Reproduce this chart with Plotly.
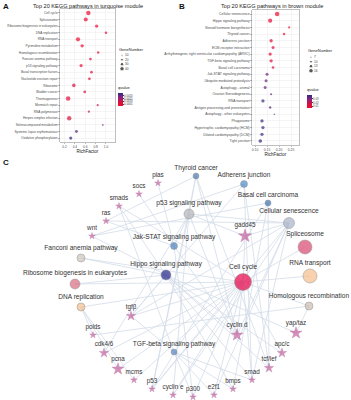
import plotly.graph_objects as go

W, H = 351, 400
FONT = "Liberation Sans, Arial, sans-serif"

# ---------------- Panel A data ----------------
a_terms = ["Cell cycle", "Spliceosome", "Ribosome biogenesis in eukaryotes", "DNA replication",
           "RNA transport", "Pyrimidine metabolism", "Homologous recombination",
           "Fanconi anemia pathway", "p53 signaling pathway", "Basal transcription factors",
           "Nucleotide excision repair", "Ribosome", "Bladder cancer", "Thermogenesis",
           "Mismatch repair", "RNA polymerase", "Herpes simplex infection",
           "Selenocompound metabolism", "Systemic lupus erythematosus", "Oxidative phosphorylation"]
a_rich = [0.66, 0.61, 0.82, 1.00, 0.46, 0.54, 0.85, 0.70, 0.52, 0.72,
          0.68, 0.38, 0.59, 0.27, 0.84, 0.67, 0.29, 0.94, 0.43, 0.32]
a_genes = [40, 36, 28, 18, 38, 28, 17, 20, 26, 20, 21, 30, 20, 42, 13, 15, 40, 8, 22, 26]
a_q = [0.0002, 0.0003, 0.0003, 0.0004, 0.0003, 0.0004, 0.0004, 0.0005, 0.0005, 0.0006,
       0.0006, 0.0007, 0.0009, 0.0006, 0.0010, 0.0011, 0.0008, 0.0018, 0.0022, 0.0025]
a_xticks = [0.2, 0.4, 0.6, 0.8, 1.0]
a_size_legend = [10, 20, 30, 40]
a_q_ticks = [0.0005, 0.0010, 0.0015, 0.0020]

# ---------------- Panel B data ----------------
b_terms = ["Cellular senescence", "Hippo signaling pathway", "Steroid hormone biosynthesis",
           "Thyroid cancer", "Adherens junction", "ECM-receptor interaction",
           "Arrhythmogenic right ventricular cardiomyopathy (ARVC)", "TGF-beta signaling pathway",
           "Basal cell carcinoma", "Jak-STAT signaling pathway", "Ubiquitin mediated proteolysis",
           "Autophagy - animal", "Ovarian Steroidogenesis", "RNA transport",
           "Antigen processing and presentation", "Autophagy - other eukaryotes", "Phagosome",
           "Hypertrophic cardiomyopathy (HCM)", "Dilated cardiomyopathy (DCM)", "Tight junction"]
b_rich = [0.192, 0.163, 0.242, 0.221, 0.167, 0.175, 0.163, 0.167, 0.175, 0.150,
          0.146, 0.142, 0.167, 0.133, 0.163, 0.180, 0.129, 0.133, 0.129, 0.122]
b_genes = [16, 15, 8, 9, 12, 11, 12, 12, 10, 11, 11, 11, 8, 12, 9, 6, 12, 12, 12, 13]
b_q = [0.006, 0.010, 0.007, 0.008, 0.013, 0.014, 0.015, 0.014, 0.016, 0.032,
       0.033, 0.034, 0.034, 0.038, 0.035, 0.036, 0.039, 0.039, 0.039, 0.040]
b_xticks = [0.10, 0.15, 0.20, 0.25]
b_size_legend = [7, 10, 13, 16]
b_q_ticks = [0.01, 0.02, 0.03]

# ---------------- Panel C network data ----------------
path_names = ["Cell cycle", "Spliceosome", "RNA transport", "Cellular senescence",
              "p53 signaling pathway", "Hippo signaling pathway",
              "Ribosome biogenesis in eukaryotes", "DNA replication", "Homologous recombination",
              "Fanconi anemia pathway", "Jak-STAT signaling pathway", "Thyroid cancer",
              "Adherens junction", "Basal cell carcinoma", "TGF-beta signaling pathway"]
path_x = [243, 305, 310, 289, 189, 166, 75, 81, 309, 81, 174, 196, 244, 268, 174]
path_y = [282, 247, 276, 223, 214, 275, 284, 307, 306, 258, 246, 176, 184, 203, 352]
path_weight = [17, 14, 14, 11, 10, 10, 10, 8, 8, 8, 7, 6, 7, 6, 6]
path_colors = ["#e80248", "#d9476f", "#f6c08e", "#a9b3c9", "#b3b4ba", "#25258c", "#d86c7e",
               "#f3bd8e", "#cbbdb0", "#cdc5bc", "#4b82c3", "#4b79b2", "#4d8bc9", "#3d72b2",
               "#5b83c4"]

gene_names = ["pias", "socs", "smads", "ras", "wnt", "gadd45", "tgfβ", "polds", "cdk4/6", "pcna",
              "mcms", "p53", "cyclin e", "p300", "e2f1", "bmps", "smad", "tcf/lef", "apc/c",
              "yap/taz", "cyclin d"]
gene_x = [158, 139, 119, 106, 92, 245, 131, 93, 104, 118, 134, 152, 173, 193, 214, 233, 252,
          269, 282, 296, 237]
gene_y = [183, 194, 206, 221, 236, 236, 316, 335, 353, 369, 380, 389, 395, 397, 395, 389, 380,
          368, 353, 333, 335]
gene_weight = [5, 5, 5, 5, 5, 10, 7, 5, 7, 9, 5, 5, 5, 5, 5, 5, 5, 7, 7, 9, 9]

edges = [
    ("Cell cycle", ["gadd45", "cyclin d", "cyclin e", "p53", "p300", "e2f1", "apc/c", "pcna",
                    "cdk4/6", "smad", "mcms", "tgfβ", "smads"]),
    ("p53 signaling pathway", ["gadd45", "cyclin d", "cyclin e", "p53", "cdk4/6"]),
    ("Hippo signaling pathway", ["wnt", "tgfβ", "smad", "bmps", "tcf/lef", "yap/taz",
                                 "cyclin d", "smads", "apc/c"]),
    ("Jak-STAT signaling pathway", ["pias", "socs", "ras", "cyclin d", "p300"]),
    ("TGF-beta signaling pathway", ["tgfβ", "smad", "bmps", "p300", "smads", "e2f1"]),
    ("Cellular senescence", ["gadd45", "cyclin d", "cyclin e", "p53", "e2f1", "tgfβ", "smad",
                             "ras"]),
    ("DNA replication", ["polds", "pcna", "mcms"]),
    ("Homologous recombination", ["polds", "yap/taz"]),
    ("Basal cell carcinoma", ["wnt", "tcf/lef", "p53", "bmps"]),
    ("Adherens junction", ["smad", "tcf/lef", "wnt", "tgfβ"]),
    ("Thyroid cancer", ["tcf/lef", "p53", "ras", "cyclin d"]),
    ("Cell cycle", ["Spliceosome", "RNA transport", "Homologous recombination",
                    "Ribosome biogenesis in eukaryotes", "Fanconi anemia pathway",
                    "DNA replication"]),
    ("Hippo signaling pathway", ["Fanconi anemia pathway", "Ribosome biogenesis in eukaryotes"]),
    ("p53 signaling pathway", ["Thyroid cancer", "Cellular senescence", "Jak-STAT signaling pathway"]),
]

COLORSCALE = [[0, "#f00a30"], [0.3, "#d8103e"], [0.65, "#8c2282"], [1, "#2f2c7c"]]


def size_a(g):
    return 1.0 + g * 0.085


def size_b(g):
    return 0.3 * g - 0.3


def px(x):
    return x / W


def py(y):
    return 1 - y / H


fig = go.Figure()

# ---------- Panel C (drawn first, underneath) ----------
pos = {}
for n, x, y in zip(path_names, path_x, path_y):
    pos[n] = (x, y)
for n, x, y in zip(gene_names, gene_x, gene_y):
    pos[n] = (x, y)
ex, ey = [], []
for src, targets in edges:
    for t in targets:
        ex += [pos[src][0], pos[t][0], None]
        ey += [pos[src][1], pos[t][1], None]
fig.add_trace(go.Scatter(x=ex, y=ey, mode="lines",
                         line=dict(color="#d3dce8", width=0.8),
                         xaxis="x", yaxis="y", showlegend=False, hoverinfo="skip"))
fig.add_trace(go.Scatter(
    x=gene_x, y=gene_y, mode="markers+text", text=gene_names, textposition="top center",
    textfont=dict(family=FONT, size=6.3, color="#333"), cliponaxis=False,
    marker=dict(symbol="star", size=gene_weight, color="#c3609f",
                line=dict(color="#a24b86", width=0.4)),
    xaxis="x", yaxis="y", showlegend=False, hoverinfo="skip"))
fig.add_trace(go.Scatter(
    x=path_x, y=path_y, mode="markers+text", text=path_names, textposition="top center",
    textfont=dict(family=FONT, size=6.6, color="#333"), cliponaxis=False,
    marker=dict(symbol="circle", size=path_weight, color=path_colors,
                line=dict(color="#6b6b6b", width=0.5)),
    xaxis="x", yaxis="y", showlegend=False, hoverinfo="skip"))

# ---------- Panel A ----------
fig.add_trace(go.Scatter(
    x=a_rich, y=list(range(len(a_terms))), mode="markers",
    marker=dict(size=[size_a(g) for g in a_genes], color=a_q, coloraxis="coloraxis",
                line=dict(width=0)),
    xaxis="x2", yaxis="y2", showlegend=False, hoverinfo="skip"))
fig.add_trace(go.Scatter(
    x=[0] * len(a_size_legend), y=list(range(len(a_size_legend))), mode="markers",
    marker=dict(size=[size_a(g) for g in a_size_legend], color="#111"),
    xaxis="x4", yaxis="y4", showlegend=False, hoverinfo="skip"))

# ---------- Panel B ----------
fig.add_trace(go.Scatter(
    x=b_rich, y=list(range(len(b_terms))), mode="markers",
    marker=dict(size=[size_b(g) for g in b_genes], color=b_q, coloraxis="coloraxis2",
                line=dict(width=0)),
    xaxis="x3", yaxis="y3", showlegend=False, hoverinfo="skip"))
fig.add_trace(go.Scatter(
    x=[0] * len(b_size_legend), y=list(range(len(b_size_legend))), mode="markers",
    marker=dict(size=[size_b(g) for g in b_size_legend], color="#111"),
    xaxis="x5", yaxis="y5", showlegend=False, hoverinfo="skip"))

ax_common = dict(showline=True, mirror=True, linecolor="#7f7f7f", linewidth=0.5,
                 showgrid=True, gridcolor="#ececec", gridwidth=0.5, zeroline=False,
                 ticks="outside", ticklen=1.2, tickwidth=0.4, tickcolor="#555")
fa = dict(family=FONT, size=3.2, color="#4d4d4d")
fb = dict(family=FONT, size=3.4, color="#4d4d4d")

fig.update_layout(
    width=W, height=H, margin=dict(l=0, r=0, t=0, b=0),
    paper_bgcolor="white", plot_bgcolor="rgba(0,0,0,0)", showlegend=False,
    font=dict(family=FONT),
    xaxis=dict(domain=[0, 1], range=[0, W], visible=False, anchor="y"),
    yaxis=dict(domain=[0, 1], range=[H, 0], visible=False, anchor="x"),
    xaxis2=dict(domain=[px(60), px(115)], range=[0.113, 1.174], tickvals=a_xticks,
                ticktext=[f"{v:.1f}" for v in a_xticks], anchor="y2", tickfont=fa,
                title=dict(text="RichFactor", font=dict(size=4.5, color="#222"), standoff=1),
                **ax_common),
    yaxis2=dict(domain=[py(142), py(9)], range=[19.6, -0.6], tickvals=list(range(len(a_terms))),
                ticktext=a_terms, anchor="x2", tickfont=fa, **ax_common),
    xaxis3=dict(domain=[px(252), px(299)], range=[0.0875, 0.283], tickvals=b_xticks,
                ticktext=[f"{v:.2f}" for v in b_xticks], anchor="y3", tickfont=fb,
                title=dict(text="RichFactor", font=dict(size=4.5, color="#222"), standoff=1),
                **ax_common),
    yaxis3=dict(domain=[py(145), py(10)], range=[19.6, -0.6], tickvals=list(range(len(b_terms))),
                ticktext=b_terms, anchor="x3", tickfont=fb, **ax_common),
    xaxis4=dict(domain=[px(120), px(124)], range=[-1, 1], visible=False, anchor="y4"),
    yaxis4=dict(domain=[py(71), py(53)], range=[3.5, -0.5], anchor="x4", side="right",
                showgrid=False, zeroline=False, showline=False, ticks="",
                tickvals=list(range(len(a_size_legend))), ticktext=[str(v) for v in a_size_legend],
                tickfont=dict(family=FONT, size=3.2, color="#444")),
    xaxis5=dict(domain=[px(309), px(313)], range=[-1, 1], visible=False, anchor="y5"),
    yaxis5=dict(domain=[py(73), py(55)], range=[3.5, -0.5], anchor="x5", side="right",
                showgrid=False, zeroline=False, showline=False, ticks="",
                tickvals=list(range(len(b_size_legend))), ticktext=[str(v) for v in b_size_legend],
                tickfont=dict(family=FONT, size=3.2, color="#444")),
    coloraxis=dict(colorscale=COLORSCALE, cmin=min(a_q), cmax=max(a_q),
                   colorbar=dict(x=px(118), xanchor="left", y=py(83), yanchor="top",
                                 len=23, lenmode="pixels", thickness=5, xpad=0, ypad=0,
                                 outlinewidth=0, ticks="outside", ticklen=1,
                                 tickvals=a_q_ticks, ticktext=[f"{v:.4f}" for v in a_q_ticks],
                                 tickfont=dict(family=FONT, size=2.8, color="#444"),
                                 title=dict(text="qvalue", side="top",
                                            font=dict(family=FONT, size=4, color="#222")))),
    coloraxis2=dict(colorscale=COLORSCALE, cmin=min(b_q), cmax=max(b_q),
                    colorbar=dict(x=px(307), xanchor="left", y=py(85), yanchor="top",
                                  len=23, lenmode="pixels", thickness=5, xpad=0, ypad=0,
                                  outlinewidth=0, ticks="outside", ticklen=1,
                                  tickvals=b_q_ticks, ticktext=[f"{v:.2f}" for v in b_q_ticks],
                                  tickfont=dict(family=FONT, size=2.8, color="#444"),
                                  title=dict(text="qvalue", side="top",
                                             font=dict(family=FONT, size=4, color="#222")))),
)

annots = [
    dict(text="<b>A</b>", x=px(1), y=py(0), xanchor="left", yanchor="top",
         font=dict(family=FONT, size=8, color="#111")),
    dict(text="<b>B</b>", x=px(177), y=py(0), xanchor="left", yanchor="top",
         font=dict(family=FONT, size=8, color="#111")),
    dict(text="<b>C</b>", x=px(1), y=py(156), xanchor="left", yanchor="top",
         font=dict(family=FONT, size=8, color="#111")),
    dict(text="Top 20 KEGG pathways in turquoise module", x=px(88), y=py(6), xanchor="center",
         yanchor="middle", font=dict(family=FONT, size=5.6, color="#222")),
    dict(text="Top 20 KEGG pathways in brown module", x=px(272), y=py(6), xanchor="center",
         yanchor="middle", font=dict(family=FONT, size=5.6, color="#222")),
    dict(text="GeneNumber", x=px(117), y=py(49), xanchor="left", yanchor="middle",
         font=dict(family=FONT, size=4, color="#222")),
    dict(text="GeneNumber", x=px(306), y=py(51), xanchor="left", yanchor="middle",
         font=dict(family=FONT, size=4, color="#222")),
]
for a in annots:
    a.update(xref="paper", yref="paper", showarrow=False)
fig.update_layout(annotations=annots)

fig.write_html("out.html", config={"displayModeBar": False, "staticPlot": True},
               post_script="document.body.style.margin='0';")
